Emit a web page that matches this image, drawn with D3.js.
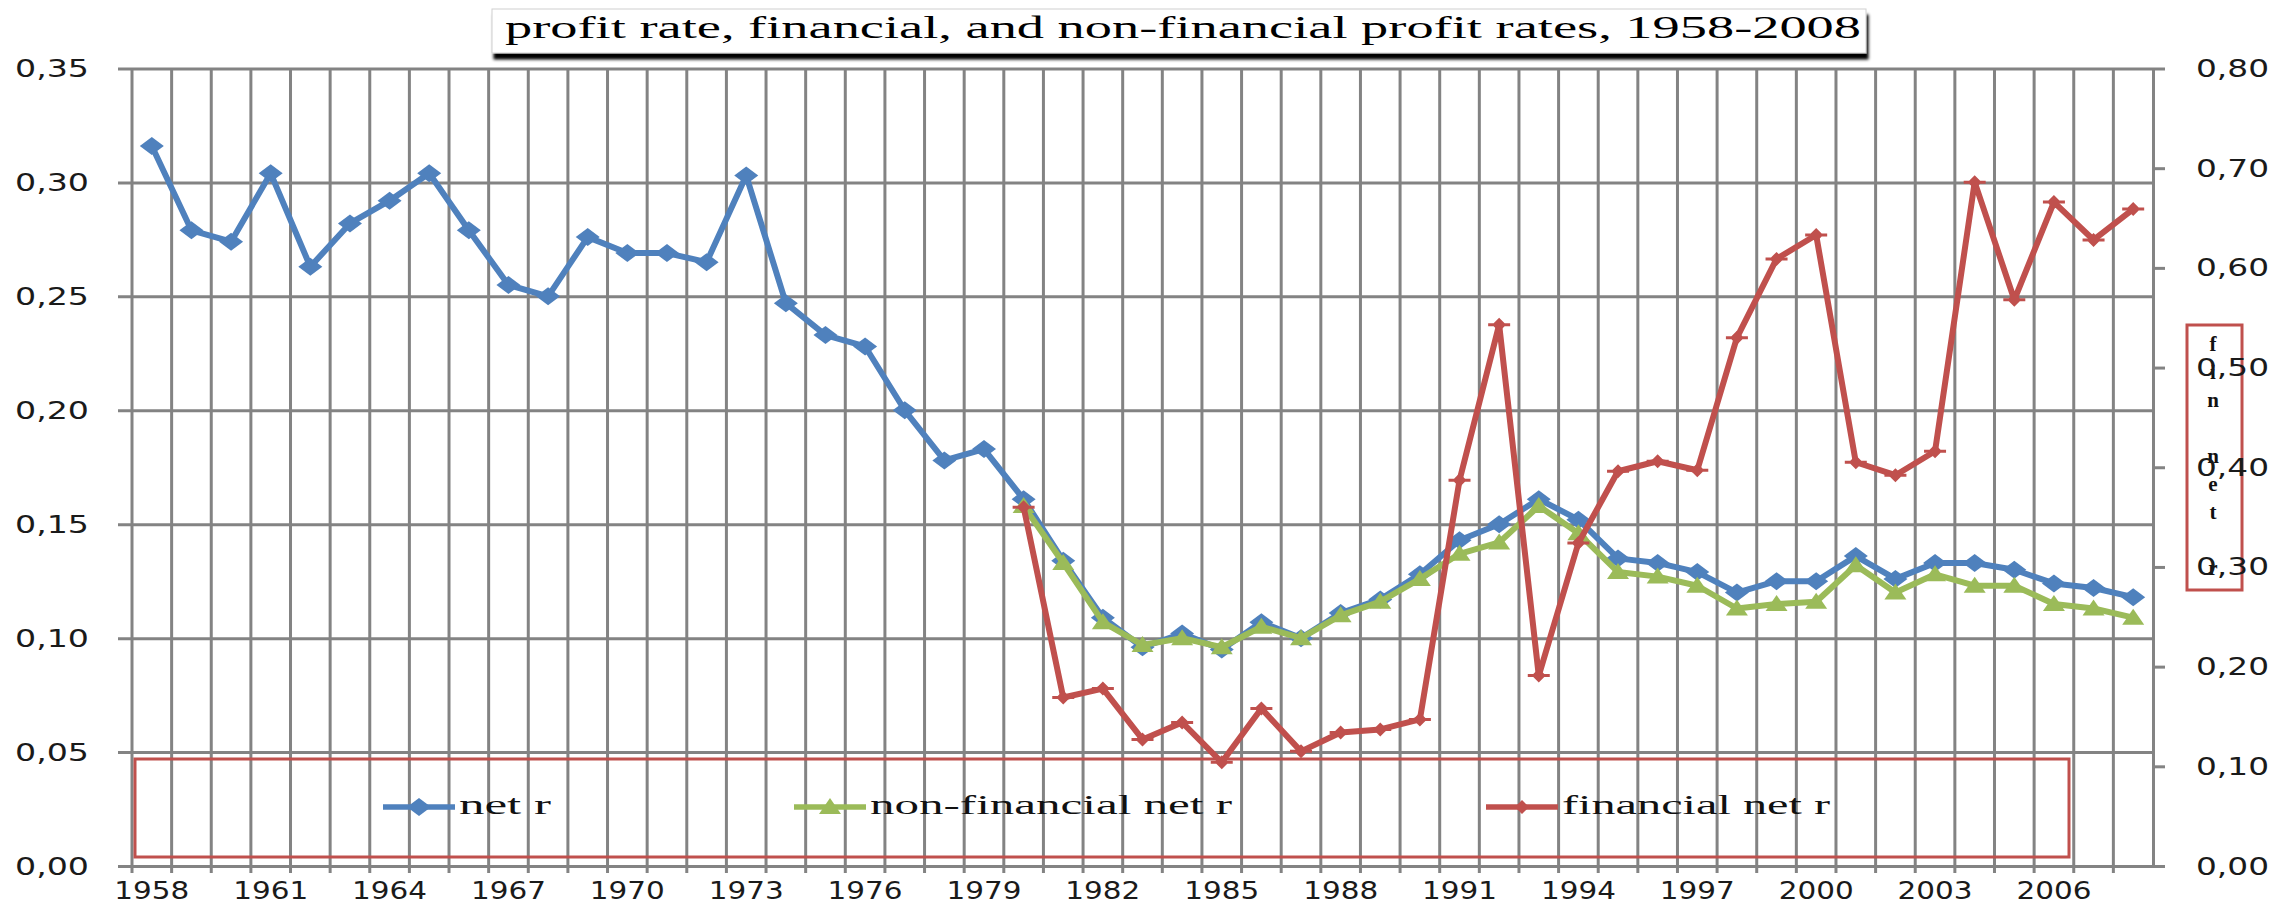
<!DOCTYPE html>
<html>
<head>
<meta charset="utf-8">
<script src="https://cdn.jsdelivr.net/npm/d3@7"></script>
<style>
body { margin: 0; background: #fff; }
</style>
</head>
<body>
<div id="chart-div"></div>
<script>
// categories
var years = d3.range(1958, 2009);
var labelYears = [1958, 1961, 1964, 1967, 1970, 1973, 1976, 1979, 1982, 1985, 1988, 1991, 1994, 1997, 2000, 2003, 2006];
var leftTicks = [0, 0.05, 0.10, 0.15, 0.20, 0.25, 0.30, 0.35];
var rightTicks = [0, 0.10, 0.20, 0.30, 0.40, 0.50, 0.60, 0.70, 0.80];

// net r, 1958-2008 (left axis)
var netR = [0.316, 0.279, 0.274, 0.304, 0.263, 0.282, 0.292, 0.304, 0.279, 0.255,
            0.250, 0.276, 0.269, 0.269, 0.265, 0.303, 0.247, 0.233, 0.228, 0.200,
            0.178, 0.183, 0.161, 0.134, 0.109, 0.096, 0.102, 0.095, 0.107, 0.100,
            0.111, 0.117, 0.128, 0.143, 0.150, 0.161, 0.152, 0.135, 0.133, 0.129,
            0.120, 0.125, 0.125, 0.136, 0.126, 0.133, 0.133, 0.130, 0.124, 0.122,
            0.118];

// non-financial net r, 1980-2008 (left axis)
var nonFinYears = d3.range(1980, 2009);
var nonFinR = [0.158, 0.133, 0.107, 0.097, 0.100, 0.096, 0.105, 0.100, 0.110, 0.116,
               0.126, 0.137, 0.142, 0.158, 0.146, 0.129, 0.127, 0.123, 0.113, 0.115,
               0.116, 0.132, 0.120, 0.128, 0.123, 0.123, 0.115, 0.113, 0.109];

// financial net r, 1980-2008 (right axis)
var finR = [0.360, 0.169, 0.178, 0.127, 0.144, 0.104, 0.158, 0.115, 0.134, 0.137,
            0.147, 0.387, 0.543, 0.191, 0.324, 0.396, 0.406, 0.397, 0.530, 0.609,
            0.633, 0.405, 0.392, 0.416, 0.686, 0.568, 0.666, 0.628, 0.659];

var titleText = "profit rate, financial, and non-financial profit rates, 1958-2008";
var legendNames = ["net r", "non-financial net r", "financial net r"];
var rightTitle = "fin net r";

var props = {
  width: 2295,
  height: 905,
  left: 132,
  right: 2153,
  top: 68.5,
  bottom: 866
};
var colors = { net: "#4F81BD", nonfin: "#9BBB59", fin: "#C0504D", grid: "#838383" };

var svg = d3.select("#chart-div").append("svg").attr("width", props.width).attr("height", props.height);

var xScale = d3.scaleBand().domain(years).range([props.left, props.right]).padding(0);
var yLeft = d3.scaleLinear().domain([0, 0.35]).range([props.bottom, props.top]);
var yRight = d3.scaleLinear().domain([0, 0.8]).range([props.bottom, props.top]);
var bw = xScale.bandwidth();
var fmt = function(d){ return d3.format(".2f")(d).replace(".", ","); };

var defs = svg.append("defs");
defs.append("filter").attr("id", "shadow").attr("x", "-2%").attr("y", "-40%").attr("width", "104%").attr("height", "200%")
  .append("feDropShadow").attr("dx", 2).attr("dy", 6).attr("stdDeviation", 1.5)
  .attr("flood-color", "#000").attr("flood-opacity", 1);

// vertical grid (band boundaries) + tick marks below
var bounds = years.map(function(y){ return xScale(y); });
svg.append("g").selectAll(".vgrid")
  .data(bounds)
  .enter()
  .append("line")
  .attr("class", "vgrid")
  .attr("x1", function(d){ return d; })
  .attr("x2", function(d){ return d; })
  .attr("y1", props.top)
  .attr("y2", props.bottom + 7)
  .style("stroke", colors.grid)
  .style("stroke-width", 3);

// left axis with horizontal grid
var leftAxis = svg.append("g")
  .attr("transform", "translate(" + (props.left - 14) + ",0)")
  .call(d3.axisLeft(yLeft).tickValues(leftTicks).tickFormat(fmt)
    .tickSize(-(props.right - props.left + 14)).tickPadding(29));
leftAxis.select(".domain").remove();
leftAxis.selectAll(".tick line").style("stroke", colors.grid).style("stroke-width", 3);
leftAxis.selectAll(".tick text")
  .style("font-family", "DejaVu Sans").style("font-size", "25px").style("fill", "#1a1a1a")
  .attr("textLength", 74).attr("lengthAdjust", "spacingAndGlyphs");

// bottom labels
var bottomAxis = svg.append("g")
  .attr("transform", "translate(0," + props.bottom + ")")
  .call(d3.axisBottom(xScale).tickValues(labelYears).tickSize(0).tickPadding(15));
bottomAxis.select(".domain").remove();
bottomAxis.selectAll(".tick text")
  .style("font-family", "DejaVu Sans").style("font-size", "25px").style("fill", "#1a1a1a")
  .attr("textLength", 75).attr("lengthAdjust", "spacingAndGlyphs");

// stacked right axis title in a box (drawn under the tick labels, as in the source)
var rt = svg.append("g");
rt.append("rect")
  .attr("x", 2187).attr("y", 325).attr("width", 55).attr("height", 265)
  .style("fill", "none").style("stroke", colors.fin).style("stroke-width", 3);
rt.selectAll(".rt-letter")
  .data(rightTitle.split(""))
  .enter()
  .append("text")
  .attr("class", "rt-letter")
  .attr("x", 2213)
  .attr("y", function(d, i){ return 351 + 28 * i; })
  .attr("text-anchor", "middle")
  .style("font-family", "Liberation Serif").style("font-weight", "bold").style("font-size", "21px")
  .style("fill", "#111")
  .text(function(d){ return d; });

// right axis
var rightAxis = svg.append("g")
  .attr("transform", "translate(" + props.right + ",0)")
  .call(d3.axisRight(yRight).tickValues(rightTicks).tickFormat(fmt)
    .tickSizeInner(12).tickSizeOuter(0).tickPadding(31));
rightAxis.select(".domain").style("stroke", colors.grid).style("stroke-width", 3);
rightAxis.selectAll(".tick line").style("stroke", colors.grid).style("stroke-width", 3);
rightAxis.selectAll(".tick text")
  .style("font-family", "DejaVu Sans").style("font-size", "25px").style("fill", "#1a1a1a")
  .attr("textLength", 73).attr("lengthAdjust", "spacingAndGlyphs");

// legend
var legendItems = [
  { name: legendNames[0], color: colors.net, shape: "diamond", x: 383, textW: 92 },
  { name: legendNames[1], color: colors.nonfin, shape: "triangle", x: 794, textW: 362 },
  { name: legendNames[2], color: colors.fin, shape: "star", x: 1486, textW: 268 }
];

function markerPath(shape){
  if(shape == "diamond") return "M-12,0L0,-9L12,0L0,9Z";
  if(shape == "triangle") return "M0,-9L11,7L-11,7Z";
  return "M-7,0L0,-7L7,0L0,7Z M-11,-1.5L11,-1.5L11,1.5L-11,1.5Z";
}

var legend = svg.append("g");
legend.append("rect")
  .attr("x", 135).attr("y", 759).attr("width", 1934).attr("height", 98)
  .style("fill", "none").style("stroke", colors.fin).style("stroke-width", 3);
var li = legend.selectAll(".legend-item").data(legendItems).enter().append("g").attr("class", "legend-item");
li.append("line")
  .attr("x1", function(d){ return d.x; }).attr("x2", function(d){ return d.x + 72; })
  .attr("y1", 807).attr("y2", 807)
  .style("stroke", function(d){ return d.color; }).style("stroke-width", 5.5);
li.append("path")
  .attr("d", function(d){ return markerPath(d.shape); })
  .attr("transform", function(d){ return "translate(" + (d.x + 36) + ",807)"; })
  .style("fill", function(d){ return d.color; });
li.append("text")
  .attr("x", function(d){ return d.x + 76; })
  .attr("y", 814)
  .attr("textLength", function(d){ return d.textW; })
  .attr("lengthAdjust", "spacingAndGlyphs")
  .style("font-family", "Liberation Serif").style("font-size", "27px").style("fill", "#111")
  .text(function(d){ return d.name; });

// series
var series = [
  { name: "net", color: colors.net, shape: "diamond", scale: yLeft,
    values: years.map(function(y, i){ return { year: y, v: netR[i] }; }) },
  { name: "nonfin", color: colors.nonfin, shape: "triangle", scale: yLeft,
    values: nonFinYears.map(function(y, i){ return { year: y, v: nonFinR[i] }; }) },
  { name: "fin", color: colors.fin, shape: "star", scale: yRight,
    values: nonFinYears.map(function(y, i){ return { year: y, v: finR[i] }; }) }
];

series.forEach(function(s){
  var lineGenerator = d3.line()
    .x(function(d){ return xScale(d.year) + bw / 2; })
    .y(function(d){ return s.scale(d.v); });
  var g = svg.append("g").attr("class", "series-" + s.name);
  g.append("path")
    .attr("d", lineGenerator(s.values))
    .style("fill", "none")
    .style("stroke", s.color)
    .style("stroke-width", 6)
    .style("stroke-linejoin", "round");
  g.selectAll(".marker")
    .data(s.values)
    .enter()
    .append("path")
    .attr("class", "marker")
    .attr("d", markerPath(s.shape))
    .attr("transform", function(d){ return "translate(" + (xScale(d.year) + bw / 2) + "," + s.scale(d.v) + ")"; })
    .style("fill", s.color);
});

// title box
var title = svg.append("g");
title.append("rect")
  .attr("x", 492).attr("y", 9).attr("width", 1374).attr("height", 44)
  .attr("filter", "url(#shadow)")
  .style("fill", "#fff").style("stroke", "#d0d0d0").style("stroke-width", 1);
title.append("text")
  .attr("x", 505).attr("y", 38)
  .attr("textLength", 1356).attr("lengthAdjust", "spacingAndGlyphs")
  .style("font-family", "Liberation Serif").style("font-size", "32px").style("fill", "#000")
  .text(titleText);
</script>
</body>
</html>
